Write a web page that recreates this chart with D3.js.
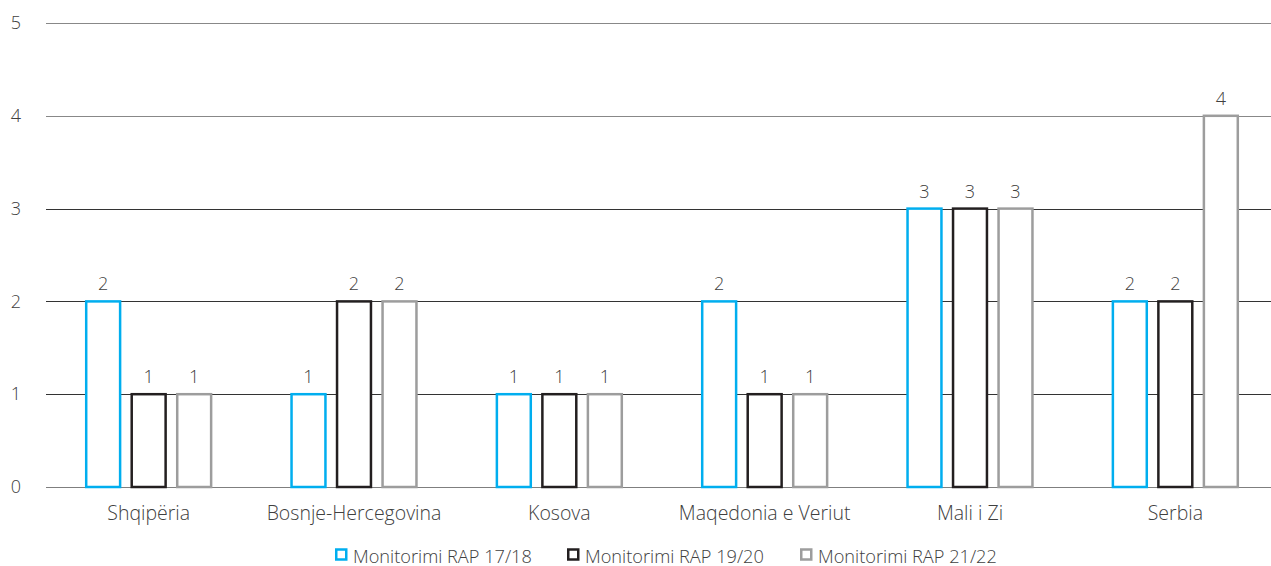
<!DOCTYPE html>
<html>
<head>
<meta charset="utf-8">
<script src="https://cdn.jsdelivr.net/npm/d3@7"></script>
<style>
  body { margin:0; background:#fff; }
  text { font-family: "Open Sans", "Noto Sans", sans-serif; font-weight:300; fill:#404040; }
</style>
</head>
<body>
<svg id="viz-svg" width="1271" height="566"></svg>
<script>
var categories = ["Shqipëria","Bosnje-Hercegovina","Kosova","Maqedonia e Veriut","Mali i Zi","Serbia"]
  , seriesNames = ["Monitorimi RAP 17/18","Monitorimi RAP 19/20","Monitorimi RAP 21/22"]
  , rap1718 = [2,1,1,2,3,2]
  , rap1920 = [1,2,1,1,3,2]
  , rap2122 = [1,2,1,1,3,4]
  , yTicks = [0,1,2,3,4,5]
  , colors = ["#00aeef","#231f20","#9d9d9d"];

var seriesValues = [rap1718, rap1920, rap2122];

var svg = d3.select("#viz-svg")
  , margin = {left:46, right:-7, top:23, bottom:79}
  , width = 1271 - margin.left - margin.right
  , height = 566 - margin.top - margin.bottom;

var g = svg.append("g").attr("transform","translate("+margin.left+","+margin.top+")");

var x0 = d3.scaleBand().domain(categories).range([0,width]).padding(0);
var x1 = d3.scaleBand().domain(d3.range(3)).range([0,x0.bandwidth()])
  .paddingInner(0.2).paddingOuter(0.856);
var y = d3.scaleLinear().domain([0,5]).range([height,0]);

// grid lines
g.append("g").selectAll("line").data(yTicks).enter().append("line")
  .attr("x1",0).attr("x2",width)
  .attr("y1",function(d){ return Math.round(y(d))+0.5; })
  .attr("y2",function(d){ return Math.round(y(d))+0.5; })
  .attr("stroke",function(d){ return d==0 ? "#7f7f7f" : (d>=4 ? "#888" : "#333"); })
  .attr("stroke-width",1);

// y tick labels
var yAxis = g.append("g")
  .call(d3.axisLeft(y).tickValues(yTicks).tickFormat(d3.format("d")).tickSize(0).tickPadding(25));
yAxis.select(".domain").remove();
yAxis.selectAll("text").style("font-size","18px").attr("fill",null)
  .attr("font-family",null);

// x labels
var xAxis = g.append("g").attr("transform","translate(0,"+height+")")
  .call(d3.axisBottom(x0).tickSize(0).tickPadding(19));
xAxis.select(".domain").remove();
xAxis.selectAll("text").style("font-size","19.5px").attr("fill",null)
  .attr("font-family",null);

// bars
var sw = 2.5;
var groups = g.selectAll(".cat").data(categories).enter().append("g")
  .attr("class","cat")
  .attr("transform",function(d){ return "translate("+x0(d)+",0)"; });

groups.each(function(cat, ci){
  var grp = d3.select(this);
  seriesValues.forEach(function(vals, si){
    var v = vals[ci];
    grp.append("rect")
      .attr("x", x1(si) + sw/2)
      .attr("y", y(v))
      .attr("width", x1.bandwidth() - sw)
      .attr("height", y(0) - y(v))
      .attr("fill","#fff")
      .attr("stroke",colors[si])
      .attr("stroke-width",sw);
    grp.append("text")
      .attr("x", x1(si) + x1.bandwidth()/2)
      .attr("y", y(v) - 11)
      .attr("text-anchor","middle")
      .style("font-size","18px")
      .text(v);
  });
});

// legend
var legendX = [335, 567, 800];
var legend = svg.append("g").attr("transform","translate(0,556)");
seriesNames.forEach(function(name, i){
  legend.append("rect")
    .attr("x", legendX[i] + 1.25).attr("y", -6.5)
    .attr("width", 10).attr("height", 10)
    .attr("fill","#fff").attr("stroke",colors[i]).attr("stroke-width",2.5);
  legend.append("text")
    .attr("x", legendX[i] + 18).attr("y", 6.5)
    .style("font-size","18.2px")
    .text(name);
});
</script>
</body>
</html>
